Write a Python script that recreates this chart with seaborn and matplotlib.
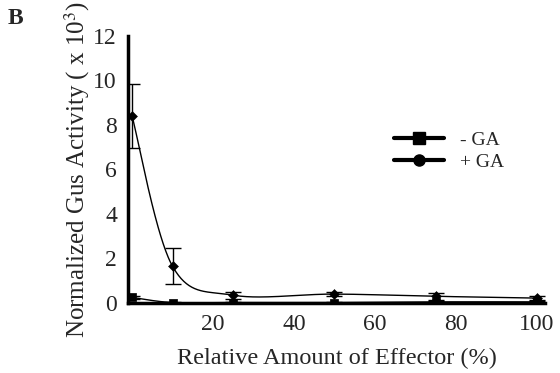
import numpy as np
import pandas as pd
import matplotlib
matplotlib.use("Agg")
import matplotlib.pyplot as plt
import seaborn as sns
from matplotlib.lines import Line2D

effector = [0, 10, 25, 50, 75, 100]
minus_ga = [0.25, 0.02, 0.02, 0.02, 0.05, 0.05]
minus_ga_err = [0.05, 0.03, 0.03, 0.03, 0.05, 0.05]
plus_ga = [8.4, 1.65, 0.35, 0.4, 0.3, 0.22]
plus_ga_err = [1.45, 0.8, 0.15, 0.08, 0.17, 0.1]


def smooth_line(x, y, n=60):
    # spreadsheet-style smoothed line: cubic Bezier between the points
    p = np.column_stack([x, y]).astype(float)
    p = np.vstack([p[0], p, p[-1]])
    out = []
    t = np.linspace(0, 1, n)[:, None]
    for i in range(1, len(p) - 2):
        p0, p3 = p[i], p[i + 1]
        p1 = p0 + (p[i + 1] - p[i - 1]) / 6
        p2 = p3 - (p[i + 2] - p[i]) / 6
        seg = ((1 - t) ** 3 * p0 + 3 * (1 - t) ** 2 * t * p1
               + 3 * (1 - t) * t ** 2 * p2 + t ** 3 * p3)
        out.append(seg)
    out = np.vstack(out)
    return out[:, 0], out[:, 1]


sns.set_style("white")
plt.rcParams['font.family'] = ['Liberation Serif', 'DejaVu Serif']
plt.rcParams['mathtext.fontset'] = 'stix'

fig = plt.figure(figsize=(5.6, 3.73), dpi=100)
ax = fig.add_axes([0.2286, 0.1877, 0.7444, 0.7158])

for vals, errs, mk, ms in [(minus_ga, minus_ga_err, 's', 5), (plus_ga, plus_ga_err, 'D', 4)]:
    xs, ys = smooth_line(effector, vals)
    sns.lineplot(x=xs, y=ys, ax=ax, color='black', lw=1.0, sort=False, estimator=None)
    ax.errorbar(effector, vals, yerr=errs, fmt='none', ecolor='black',
                elinewidth=1.0, capsize=6, capthick=1.0)
    sns.scatterplot(x=effector, y=vals, ax=ax, marker=mk, s=ms ** 2 * 1.6,
                    color='black', edgecolor='black', zorder=5)

ax.set_xlim(-1, 102)
ax.set_ylim(0, 12)
ax.set_xticks([20, 40, 60, 80, 100])
ax.set_yticks([0, 2, 4, 6, 8, 10, 12])
ax.tick_params(axis='x', direction='in', length=4, width=2, labelsize=17, pad=8)
ax.tick_params(axis='y', direction='in', length=4, width=2, labelsize=17, pad=8)
for s in ['top', 'right']:
    ax.spines[s].set_visible(False)
for s in ['left', 'bottom']:
    ax.spines[s].set_linewidth(2.5)
    ax.spines[s].set_color('black')

ax.set_xlabel('Relative Amount of Effector (%)', fontsize=17.5, labelpad=9)
ax.set_ylabel(r'Normalized Gus Activity ( x 10$^3$)', fontsize=18, labelpad=1)

handles = [Line2D([], [], color='black', lw=3, marker='s', ms=8),
           Line2D([], [], color='black', lw=3, marker='o', ms=8)]
ax.legend(handles, ['- GA', '+ GA'], loc='upper left', bbox_to_anchor=(0.595, 0.71),
          frameon=False, fontsize=14, handlelength=2.6, labelspacing=0.25)

fig.text(0.014, 0.935, 'B', fontsize=17, fontweight='bold')

fig.savefig('out.png', dpi=100)
